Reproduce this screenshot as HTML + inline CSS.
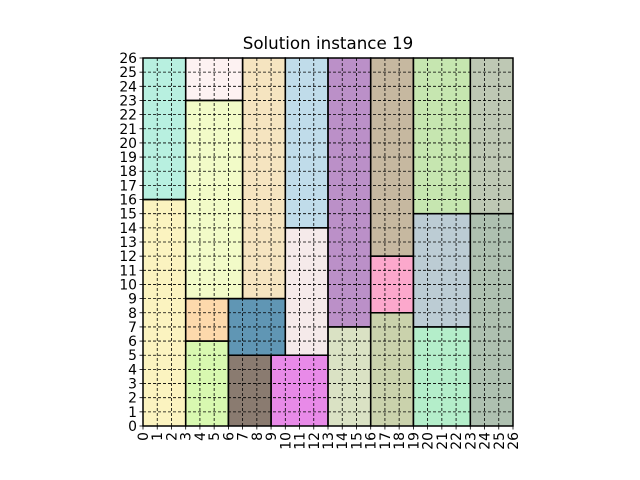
<!DOCTYPE html>
<html><head><meta charset="utf-8"><style>
body{margin:0;background:#fff;}
svg{display:block;font-family:"DejaVu Sans","Liberation Sans",sans-serif;}
</style></head><body>
<svg id="chart" width="640" height="480" viewBox="0 0 640 480"></svg>
<script>
const rectX=[0,0,3,3,7,3,3,6,6,9,10,10,13,13,16,16,16,19,19,19,23,23];
const rectY=[0,16,23,9,9,6,0,5,0,0,5,14,7,0,12,8,0,15,7,0,15,0];
const rectW=[3,3,4,4,3,3,3,4,3,4,3,3,3,3,3,3,3,4,4,4,3,3];
const rectH=[16,10,3,14,17,3,6,4,5,5,9,12,19,7,14,4,8,11,8,7,11,15];
const rectColor=["#fbf3c0","#b8f0e0","#fdf2f2","#f2fbc8","#f5e4c0","#fdd9ac","#d8f8b0","#6096b4","#8a7b70","#e88ae8","#f5eaea","#c0dcea","#bb90c8","#dae2c4","#c6b8a0","#fca8cc","#cad2ac","#c6e6b0","#bcccd4","#b4eeca","#bec8b4","#aec0b0"];
const ticks=Array.from({length:27},(_,i)=>i);
const NS="http://www.w3.org/2000/svg";
const svg=document.getElementById('chart');
const X0=143,X1=513,Y0=426,Y1=58,N=26;
const sx=v=>X0+(X1-X0)*v/N, sy=v=>Y0-(Y0-Y1)*v/N;
function mk(t,a,p){const e=document.createElementNS(NS,t);for(const k in a)e.setAttribute(k,a[k]);(p||svg).appendChild(e);return e;}
const title=mk('text',{x:328,y:49,'text-anchor':'middle','font-size':'16.7',fill:'#000'});


title.textContent='Solution instance 19';
for(let i=0;i<rectX.length;i++){
 const r=mk('rect',{x:sx(rectX[i]),y:sy(rectY[i]+rectH[i]),width:sx(rectX[i]+rectW[i])-sx(rectX[i]),height:sy(rectY[i])-sy(rectY[i]+rectH[i]),fill:rectColor[i]});
 
 
}
const grid=mk('g',{stroke:'#000','stroke-width':'0.8','stroke-dasharray':'3,2'});


ticks.forEach(t=>{mk('line',{x1:sx(t),x2:sx(t),y1:Y0,y2:Y1},grid);mk('line',{x1:X0,x2:X1,y1:sy(t),y2:sy(t)},grid);});
for(let i=0;i<rectX.length;i++){
 const r=mk('rect',{x:sx(rectX[i]),y:sy(rectY[i]+rectH[i]),width:sx(rectX[i]+rectW[i])-sx(rectX[i]),height:sy(rectY[i])-sy(rectY[i]+rectH[i]),fill:'none',stroke:'#000','stroke-width':'1.5'});
 
 
}
const frame=mk('rect',{x:X0,y:Y1,width:X1-X0,height:Y0-Y1,fill:'none',stroke:'#000','stroke-width':'1'});


const ax=mk('g',{'font-size':'13.9',fill:'#000'});


ticks.forEach(t=>{
 mk('line',{x1:X0,x2:X0-3.5,y1:sy(t),y2:sy(t),stroke:'#000','stroke-width':'0.8'},ax);
 const yl=mk('text',{x:X0-6,y:sy(t)+5,'text-anchor':'end'},ax);
 
 
 yl.textContent=t;
 mk('line',{x1:sx(t),x2:sx(t),y1:Y0,y2:Y0+3.5,stroke:'#000','stroke-width':'0.8'},ax);
 const xl=mk('text',{x:0,y:0,'text-anchor':'end',transform:`translate(${sx(t)+5},${Y0+6}) rotate(-90)`},ax);
 
 
 xl.textContent=t;
});
</script>
</body></html>
